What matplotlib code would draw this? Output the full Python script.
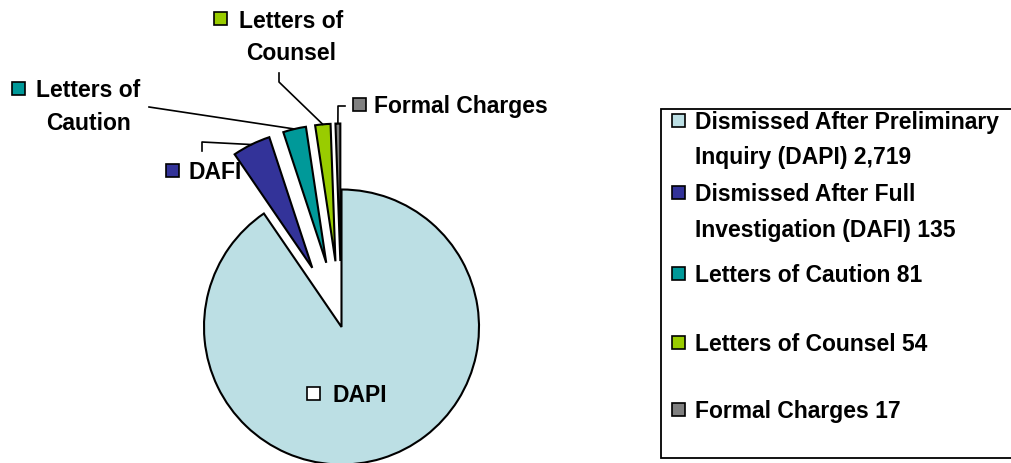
import numpy as np
import matplotlib.pyplot as plt
from matplotlib.patches import Rectangle

# data
short_names = ["DAPI", "DAFI", "Letters of\nCaution", "Letters of\nCounsel", "Formal Charges"]
legend_names = ["Dismissed After Preliminary\nInquiry (DAPI)",
                "Dismissed After Full\nInvestigation (DAFI)",
                "Letters of Caution", "Letters of Counsel", "Formal Charges"]
counts = [2719, 135, 81, 54, 17]
colors = ["#bcdfe4", "#333399", "#009999", "#99cc00", "#808080"]
explode_frac = [0, 0.48, 0.48, 0.48, 0.48]

W, H = 1011, 464
plt.rcParams['font.family'] = ['Liberation Sans', 'DejaVu Sans']
FS = 16.5

fig = plt.figure(figsize=(W / 100, H / 100), dpi=100)
ax = fig.add_axes([0, 0, 1, 1])

def Y(y):
    # image y (from top) -> axes y
    return H - y

cx, cy, R = 341.5, Y(328), 137.5
# pie's explode is in data units, so scale by radius
wedges, _ = ax.pie(counts, colors=colors, explode=[e * R for e in explode_frac],
                   startangle=90, counterclock=False, center=(cx, cy), radius=R,
                   wedgeprops=dict(edgecolor="black", linewidth=1.5))
ax.set_xlim(0, W)
ax.set_ylim(0, H)
ax.set_aspect('equal')
ax.axis('off')

def arc_mid(w):
    t = np.deg2rad((w.theta1 + w.theta2) / 2)
    return w.center[0] + w.r * np.cos(t), w.center[1] + w.r * np.sin(t)

def key(x, ytop, c, s=13):
    ax.add_patch(Rectangle((x, Y(ytop + s)), s, s, facecolor=c,
                           edgecolor="black", linewidth=1.2, zorder=5))

def txt(x, ybase, s, ha="left"):
    ax.text(x, Y(ybase), s, fontsize=FS, fontweight="bold", ha=ha,
            va="baseline", zorder=5)

# slice labels
key(307, 388, "white")
txt(332, 402, short_names[0])

key(166, 165, colors[1])
txt(188, 179, short_names[1])

key(12, 83, colors[2])
for i, line in enumerate(short_names[2].split("\n")):
    txt(88.5, 97 + 33 * i, line, ha="center")

key(214, 13, colors[3])
for i, line in enumerate(short_names[3].split("\n")):
    txt(291, 28 + 32 * i, line, ha="center")

key(353, 99, colors[4])
txt(374, 113, short_names[4])

# leader lines
leaders = [None,
           [(202, 152), (202, 143)],
           [(149, 108)],
           [(279, 74), (279, 83)],
           [(345, 107), (338, 107)]]
for w, pts in zip(wedges, leaders):
    if pts is None:
        continue
    mx, my = arc_mid(w)
    xs = [p[0] for p in pts] + [mx]
    ys = [Y(p[1]) for p in pts] + [my]
    ax.plot(xs, ys, color="black", linewidth=1.2, zorder=4)

# legend
ax.add_patch(Rectangle((661, Y(459)), 400, 349, facecolor="white",
                       edgecolor="black", linewidth=1.3, zorder=1))
leg_lines = [[129, 164], [201, 237], [282], [351], [418]]
for name, n, c, bases in zip(legend_names, counts, colors, leg_lines):
    label = f"{name} {n:,}"
    key(672, bases[0] - 14, c)
    for line, b in zip(label.split("\n"), bases):
        txt(695, b, line)

fig.savefig("out.png", dpi=100)
